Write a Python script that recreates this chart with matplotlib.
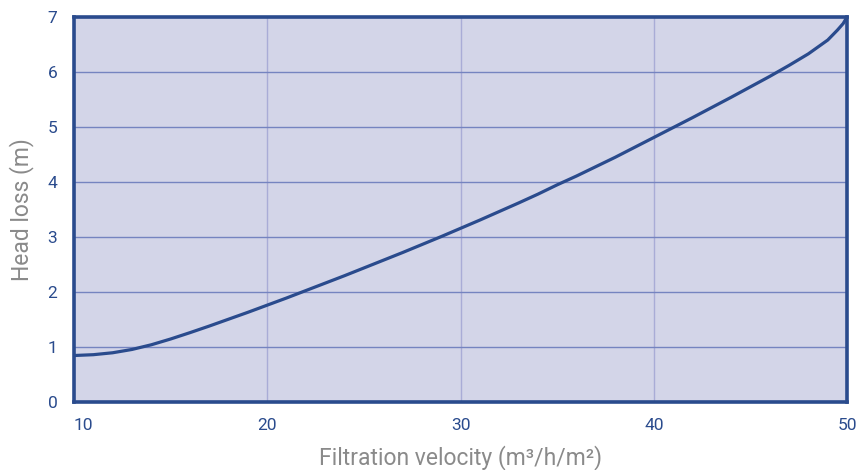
import numpy as np
import matplotlib.pyplot as plt

plt.rcParams['font.family'] = ['Roboto', 'DejaVu Sans']

# filtration velocity (m3/h/m2) and head loss (m)
velocity = [10, 11, 12, 13, 14, 15, 16, 17, 18, 19, 20, 21, 22, 23, 24, 25,
            26, 27, 28, 29, 30, 31, 32, 33, 34, 35, 36, 37, 38, 39, 40, 41,
            42, 43, 44, 45, 46, 47, 48, 49, 49.5, 49.8, 50]
head_loss = [0.85, 0.865, 0.90, 0.96, 1.045, 1.15, 1.265, 1.385, 1.51, 1.635,
             1.765, 1.895, 2.03, 2.165, 2.30, 2.44, 2.58, 2.72, 2.865, 3.01,
             3.16, 3.31, 3.465, 3.62, 3.78, 3.95, 4.11, 4.28, 4.45, 4.63, 4.81,
             4.99, 5.17, 5.355, 5.54, 5.73, 5.92, 6.12, 6.33, 6.58, 6.76, 6.88, 7.0]

x_ticks = [10, 20, 30, 40, 50]
y_ticks = [0, 1, 2, 3, 4, 5, 6, 7]

navy = '#2a4b8d'
fig = plt.figure(figsize=(8.59, 4.70), dpi=100)
ax = fig.add_axes([0.0861, 0.144, 0.900, 0.820])
ax.set_facecolor('#d3d5e8')

ax.plot(velocity, head_loss, color=navy, lw=2.3, solid_capstyle='round',
        solid_joinstyle='round', zorder=3)

ax.set_xlim(10, 50)
ax.set_ylim(0, 7)
ax.set_xticks(x_ticks)
ax.set_yticks(y_ticks)

ax.grid(axis='y', color='#7584c0', lw=1.0)
ax.grid(axis='x', color='#a9acd6', lw=1.0)
ax.set_axisbelow(True)

for s in ax.spines.values():
    s.set_color(navy)
    s.set_linewidth(2.6)

ax.tick_params(length=0, colors=navy, labelsize=12.5)
ax.tick_params(axis='x', pad=11)
ax.tick_params(axis='y', pad=12)
ax.get_xticklabels()[0].set_ha('left')

ax.set_xlabel('Filtration velocity (m³/h/m²)', color='#8a8a8a', fontsize=16.5, labelpad=9)
ax.set_ylabel('Head loss (m)', color='#8a8a8a', fontsize=16.5, labelpad=10)

fig.savefig('out.png', dpi=100)
